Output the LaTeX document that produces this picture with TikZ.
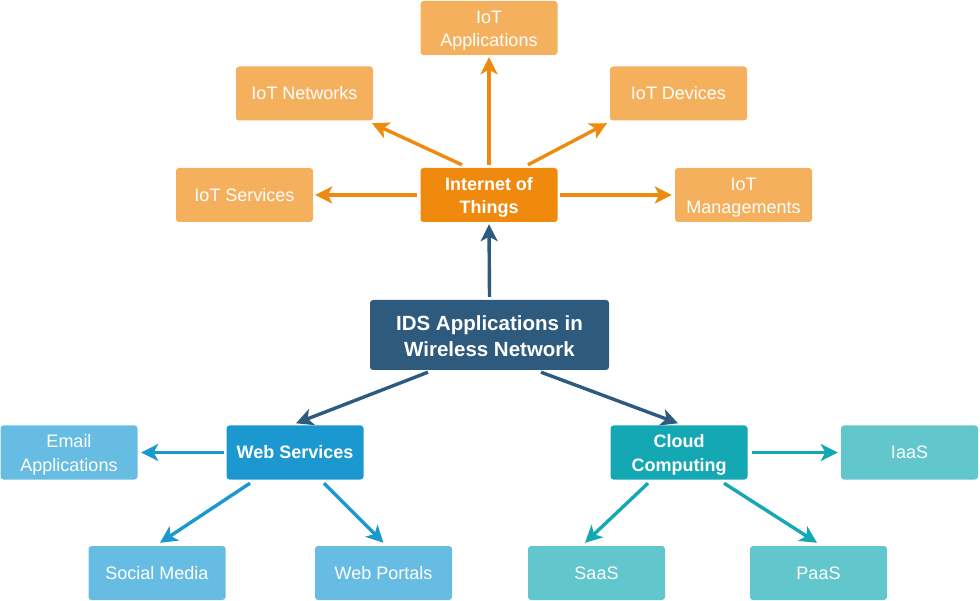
\documentclass[tikz,border=0pt]{standalone}
\usepackage{fontspec}
\setmainfont{Liberation Sans}
\usetikzlibrary{arrows.meta}
\definecolor{hubor}{HTML}{EF8A0E}
\definecolor{leafor}{HTML}{F5B05E}
\definecolor{idsblue}{HTML}{2E5A7E}
\definecolor{hubbl}{HTML}{1B98D0}
\definecolor{leafbl}{HTML}{67BCE3}
\definecolor{hubtl}{HTML}{14A8B5}
\definecolor{leaftl}{HTML}{62C6CD}
\newcommand\topfix{\rule{0pt}{17.5pt}}
\tikzset{
  box/.style={rounded corners=3pt, minimum width=137pt, minimum height=54pt, inner sep=0pt, text=white, align=center, font=\fontsize{18}{23.5}\selectfont},
  hub/.style={box, font=\fontsize{18}{23.5}\selectfont\bfseries},
  conn/.style={line width=3.4pt, -{Stealth[length=17pt,width=17pt,inset=4.5pt]}},
}
\begin{document}
\begin{tikzpicture}[x=1pt,y=-1pt]
\useasboundingbox (0,0) rectangle (980,601);
% IoT
\node[hub, fill=hubor] (iot) at (489,195) {\topfix Internet of\\Things};
\node[box, fill=leafor] (iotapp) at (489,28) {\topfix IoT\\Applications};
\node[box, fill=leafor] (iotnet) at (304.5,93.5) {IoT Networks};
\node[box, fill=leafor] (iotdev) at (678.5,93.5) {IoT Devices};
\node[box, fill=leafor] (iotsrv) at (244.5,195) {IoT Services};
\node[box, fill=leafor] (iotman) at (743.5,195) {\topfix IoT\\Managements};
% IDS
\node[box, fill=idsblue, minimum width=239pt, minimum height=70pt, font=\fontsize{20.5}{26}\selectfont\bfseries] (ids) at (489.5,335) {\rule{0pt}{18pt}IDS Applications in\\Wireless Network};
% Web
\node[hub, fill=hubbl] (web) at (295,452.5) {Web Services};
\node[box, fill=leafbl] (email) at (69,452.5) {\topfix Email\\Applications};
\node[box, fill=leafbl] (social) at (157,573) {Social Media};
\node[box, fill=leafbl] (portal) at (383.5,573) {Web Portals};
% Cloud
\node[hub, fill=hubtl] (cloud) at (679,452.5) {\topfix Cloud\\Computing};
\node[box, fill=leaftl] (iaas) at (909.5,452.5) {IaaS};
\node[box, fill=leaftl] (saas) at (596.5,573) {SaaS};
\node[box, fill=leaftl] (paas) at (818.5,573) {PaaS};
% connectors
\begin{scope}[conn, draw=hubor]
\draw ([yshift=3pt]iot.north) -- ([yshift=-2pt]iotapp.south);
\draw ([xshift=-27pt,yshift=3pt]iot.north) -- ([xshift=67.5pt,yshift=-2.5pt]iotnet.south);
\draw ([xshift=39pt,yshift=3pt]iot.north) -- ([xshift=-71.5pt,yshift=-2.5pt]iotdev.south);
\draw ([xshift=-3pt]iot.west) -- ([xshift=2pt]iotsrv.east);
\draw ([xshift=2pt]iot.east) -- ([xshift=-3pt]iotman.west);
\end{scope}
\begin{scope}[conn, draw=idsblue]
\draw ([yshift=3pt]ids.north) -- ([yshift=-2pt]iot.south);
\draw ([xshift=-61.5pt,yshift=-2pt]ids.south) -- ([xshift=1pt,yshift=2pt]web.north);
\draw ([xshift=51.5pt,yshift=-2pt]ids.south) -- ([xshift=-1pt,yshift=2pt]cloud.north);
\end{scope}
\begin{scope}[conn, draw=hubbl]
\draw ([xshift=-2.5pt]web.west) -- ([xshift=3.5pt]email.east);
\draw ([xshift=-45pt,yshift=-3.5pt]web.south) -- ([xshift=3pt,yshift=3pt]social.north);
\draw ([xshift=29pt,yshift=-3.5pt]web.south) -- ([yshift=3pt]portal.north);
\end{scope}
\begin{scope}[conn, draw=hubtl]
\draw ([xshift=4pt]cloud.east) -- ([xshift=-3pt]iaas.west);
\draw ([xshift=-31pt,yshift=-3.5pt]cloud.south) -- ([xshift=-11.5pt,yshift=3pt]saas.north);
\draw ([xshift=45pt,yshift=-3.5pt]cloud.south) -- ([xshift=-1.5pt,yshift=3pt]paas.north);
\end{scope}
\end{tikzpicture}
\end{document}
